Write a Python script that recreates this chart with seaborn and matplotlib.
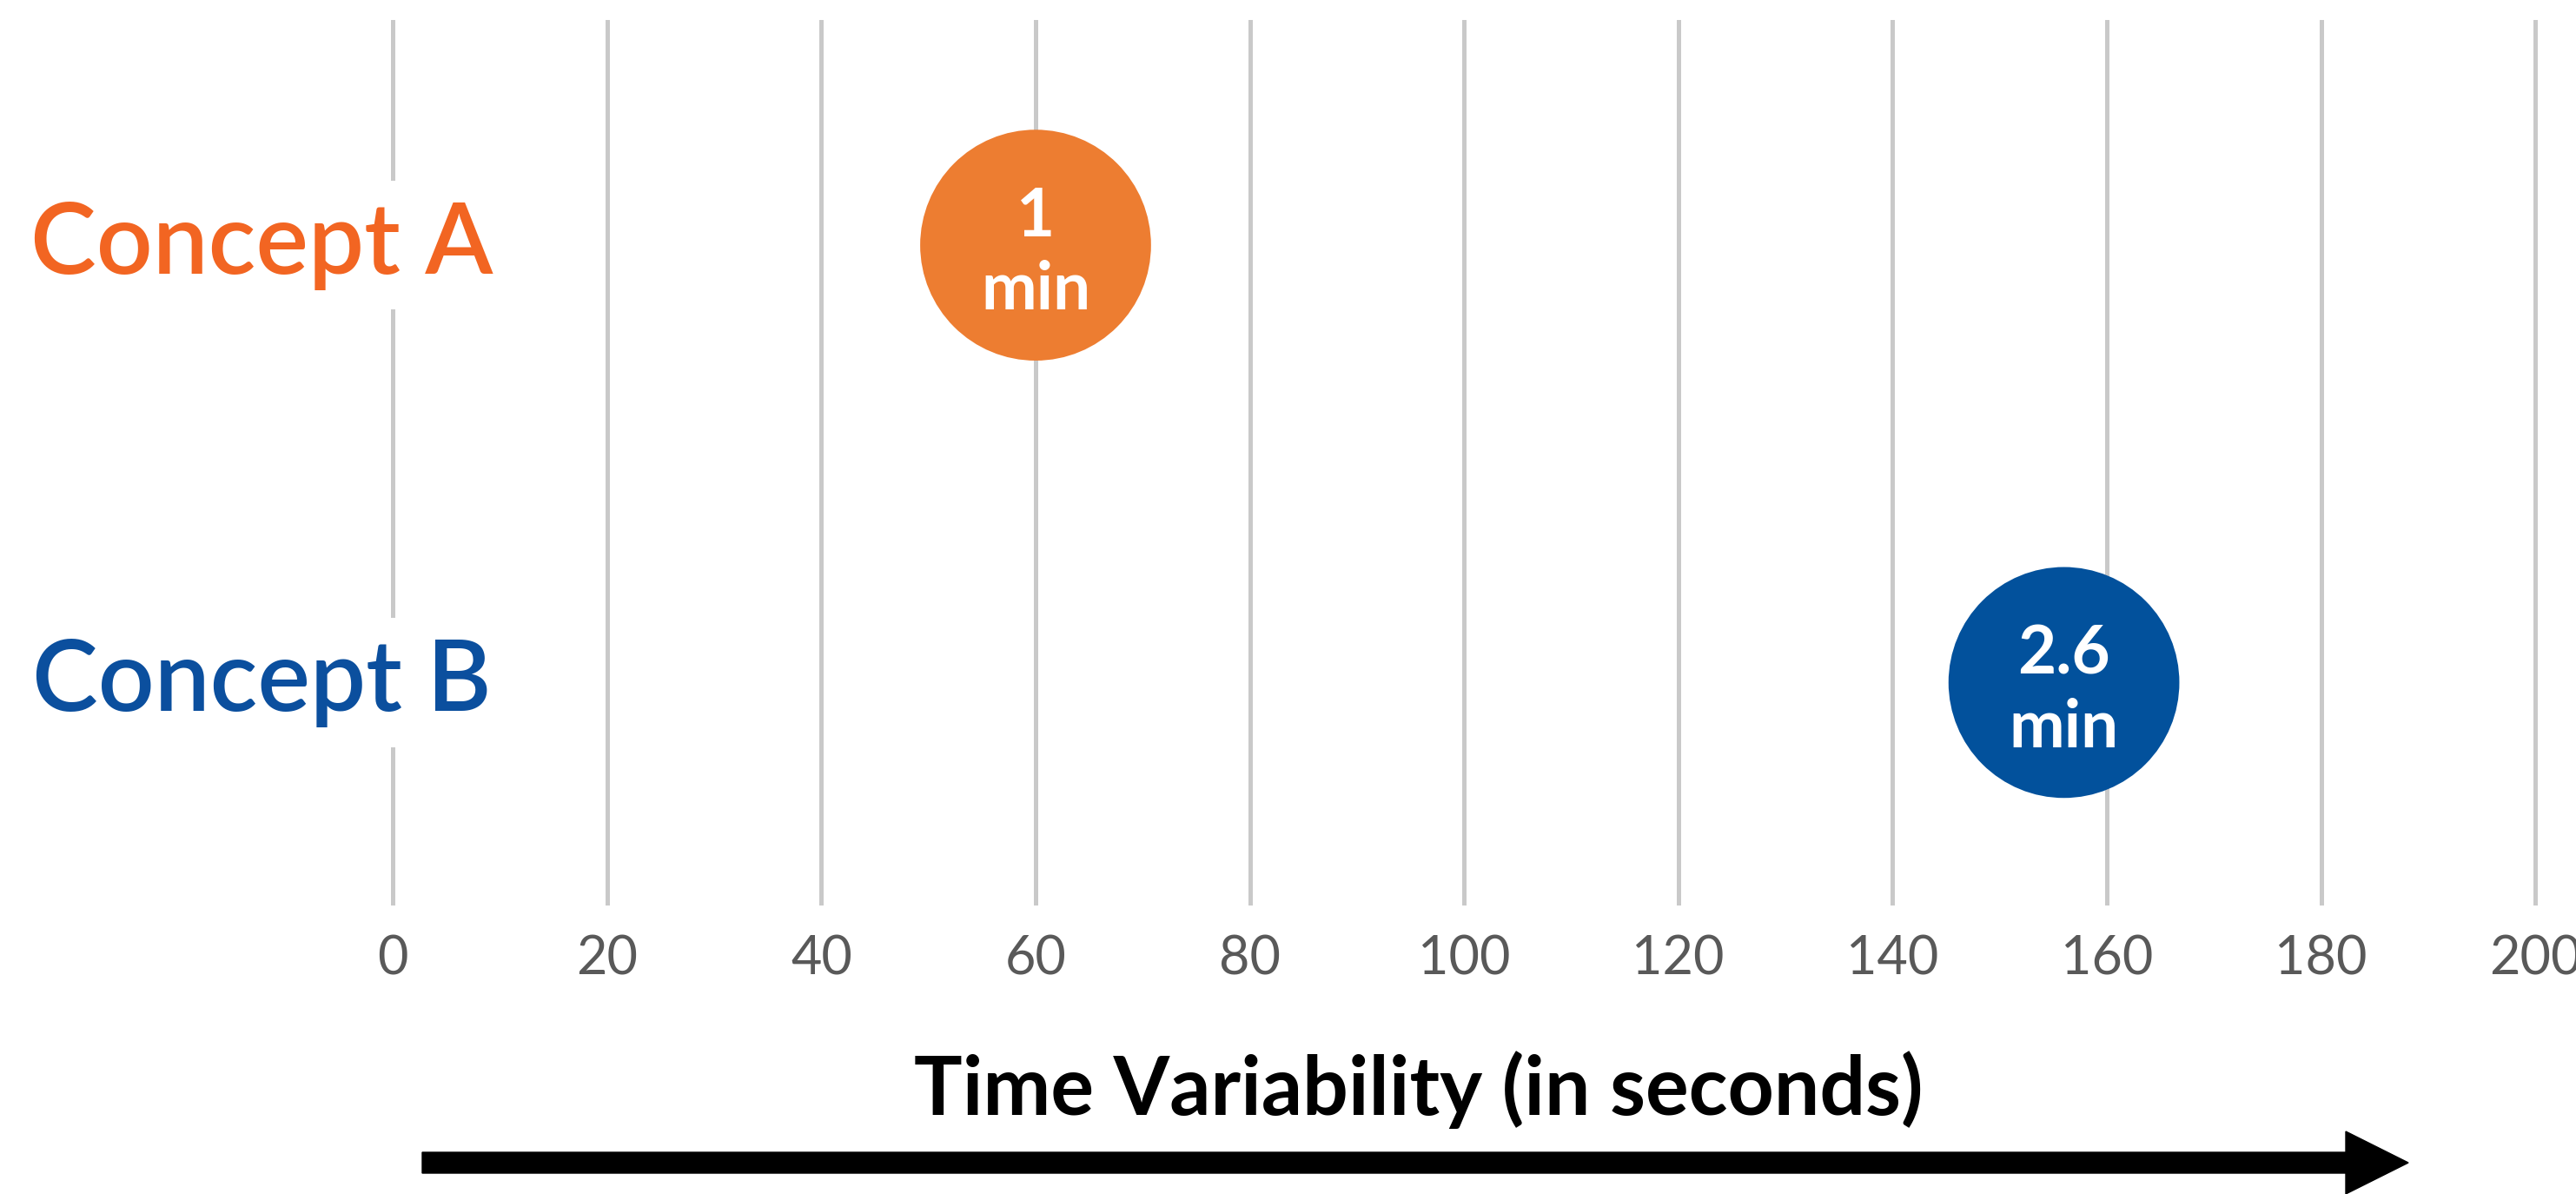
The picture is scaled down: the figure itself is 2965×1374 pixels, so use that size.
import matplotlib
matplotlib.use("Agg")
import matplotlib.pyplot as plt
import matplotlib.transforms as mtransforms
from matplotlib.patches import FancyArrow
import pandas as pd
import seaborn as sns

# Data
concepts = ["Concept A", "Concept B"]
minutes = [1, 2.6]
bubble_labels = ["1\nmin", "2.6\nmin"]
x_ticks = [0, 20, 40, 60, 80, 100, 120, 140, 160, 180, 200]
x_label = "Time Variability (in seconds)"

label_colors = ["#F26522", "#0B4F9E"]
bubble_colors = ["#ED7D31", "#02519C"]

df = pd.DataFrame({
    "concept": concepts,
    "seconds": [m * 60 for m in minutes],
    "row": list(range(len(concepts))),
    "label": bubble_labels,
})

sns.set_theme(style="white")
plt.rcParams["font.family"] = ["Lato", "DejaVu Sans"]

fig = plt.figure(figsize=(29.65, 13.74), dpi=100)
ax = fig.add_axes([0.1442, 0.2416, 0.8483, 0.7417])

sns.scatterplot(data=df, x="seconds", y="row", hue="concept",
                palette=bubble_colors, s=36600, edgecolor="none",
                legend=False, ax=ax, zorder=3)

for _, r in df.iterrows():
    ax.text(r["seconds"], r["row"] + 0.02, r["label"], ha="center", va="center",
            color="white", fontsize=55, fontweight="bold", linespacing=1.25,
            zorder=4)

ax.set_xlim(-2, 202)
ax.set_ylim(1.51, -0.515)
ax.set_xticks(x_ticks)
ax.set_xticklabels([str(t) for t in x_ticks])
ax.set_yticks([])
ax.set_xlabel("")
ax.set_ylabel("")
ax.tick_params(axis="x", length=0, pad=24, labelsize=44, labelcolor="#595959")
ax.set_axisbelow(True)
ax.grid(axis="x", color="#c9c9c9", linewidth=3.6)
ax.grid(axis="y", visible=False)
for sp in ax.spines.values():
    sp.set_visible(False)

# Row labels on the left, with white backing over the zero gridline
trans = mtransforms.blended_transform_factory(fig.transFigure, ax.transData)
for i, (name, col) in enumerate(zip(concepts, label_colors)):
    fig.text(0.1015, i, name, transform=trans, ha="center", va="center",
             fontsize=82, fontweight="semibold", color=col,
             bbox=dict(facecolor="white", edgecolor="none", pad=16))

# Axis title and arrow
fig.text(0.5508, 1 - 1254 / 1374, x_label, ha="center", va="center",
         fontsize=67, fontweight="bold", color="black")
arrow = FancyArrow(4.86, 0.36, 22.86, 0, width=0.24, head_width=0.72,
                   head_length=0.72, length_includes_head=True,
                   color="black", transform=fig.dpi_scale_trans)
fig.patches.append(arrow)

fig.savefig("out.png", dpi=100, facecolor="white")
